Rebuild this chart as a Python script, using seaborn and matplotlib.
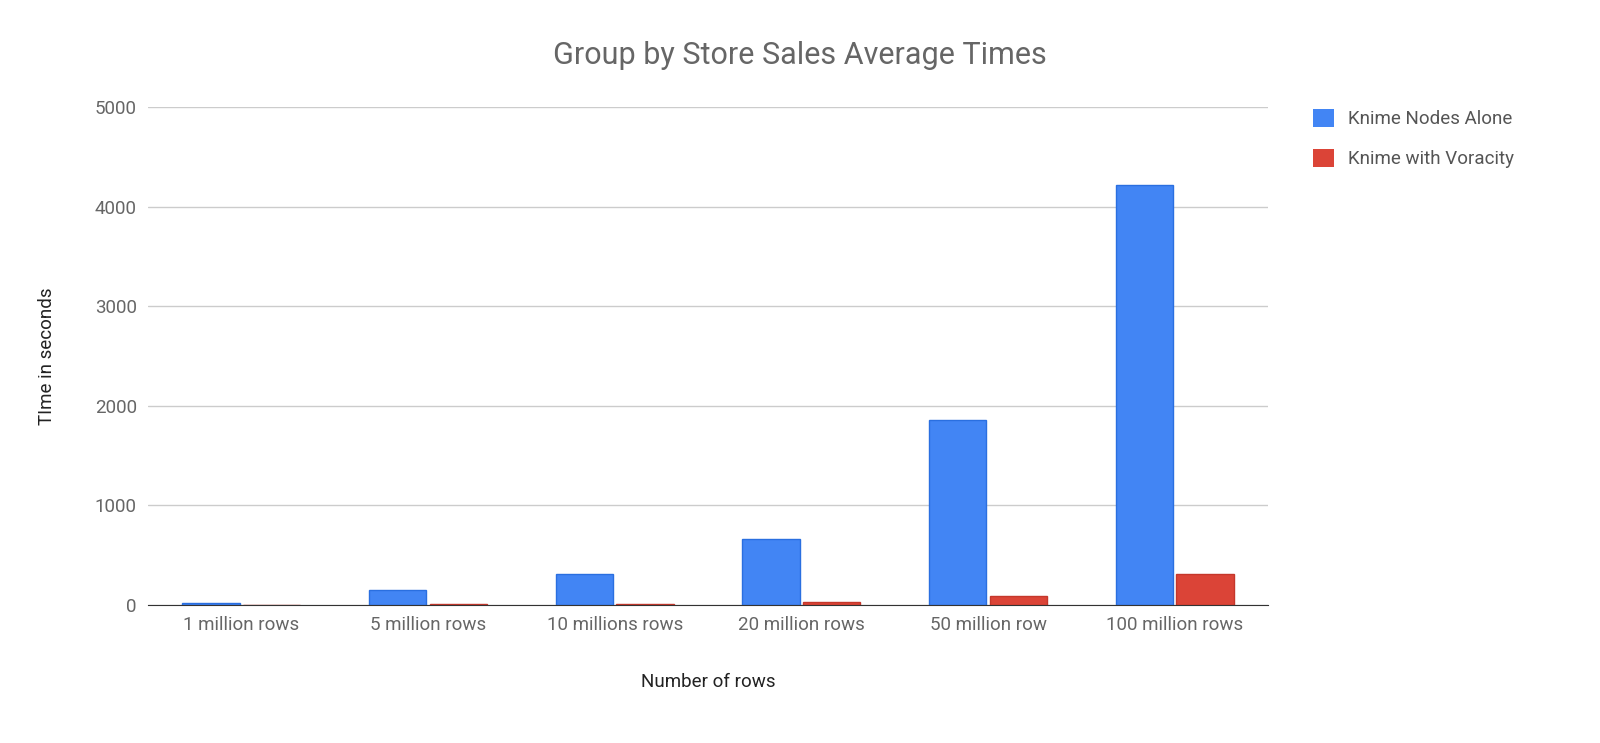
import matplotlib
matplotlib.use("Agg")
import matplotlib.pyplot as plt
import seaborn as sns
import pandas as pd

categories = ["1 million rows", "5 million rows", "10 millions rows", "20 million rows", "50 million row", "100 million rows"]
knime_alone = [22, 145, 305, 660, 1860, 4220]
knime_voracity = [3, 8, 10, 25, 92, 305]
series = ["Knime Nodes Alone", "Knime with Voracity"]

df = pd.DataFrame({
    "cat": categories * 2,
    "val": knime_alone + knime_voracity,
    "series": [series[0]] * 6 + [series[1]] * 6,
})

sns.set_style("white")
plt.rcParams["font.family"] = ["Roboto", "DejaVu Sans"]
fig = plt.figure(figsize=(16, 7.43), dpi=100)
ax = fig.add_axes([0.0925, 0.186, 0.7, 0.67])
sns.barplot(data=df, x="cat", y="val", hue="series", palette=["#4285f4", "#db4437"],
            ax=ax, width=0.65, gap=0.05, saturation=1, edgecolor=None, linewidth=0)
for p, c in zip(ax.patches, ["#2a6fe0"] * 6 + ["#c5372b"] * 6):
    p.set_edgecolor(c); p.set_linewidth(1)
ax.set_ylim(0, 5000)
ax.set_yticks(range(0, 5001, 1000))
ax.yaxis.grid(True, color="#cccccc", linewidth=1)
ax.set_axisbelow(True)
for s in ["top", "right", "left"]:
    ax.spines[s].set_visible(False)
ax.spines["bottom"].set_color("#333333")
ax.tick_params(axis="both", length=0, labelsize=13.5, colors="#666666", pad=8)
ax.set_xlabel("Number of rows", fontsize=13.5, color="#222222", labelpad=28)
ax.set_ylabel("TIme in seconds", fontsize=13.5, color="#222222", labelpad=28)
fig.suptitle("Group by Store Sales Average Times", fontsize=22, color="#666666", y=0.945)
ax.legend(loc="upper left", bbox_to_anchor=(1.025, 1.03), frameon=False, fontsize=13.5,
          labelcolor="#555555", handlelength=1.1, handleheight=1.1, labelspacing=1.1)
fig.savefig("out.png", dpi=100)
